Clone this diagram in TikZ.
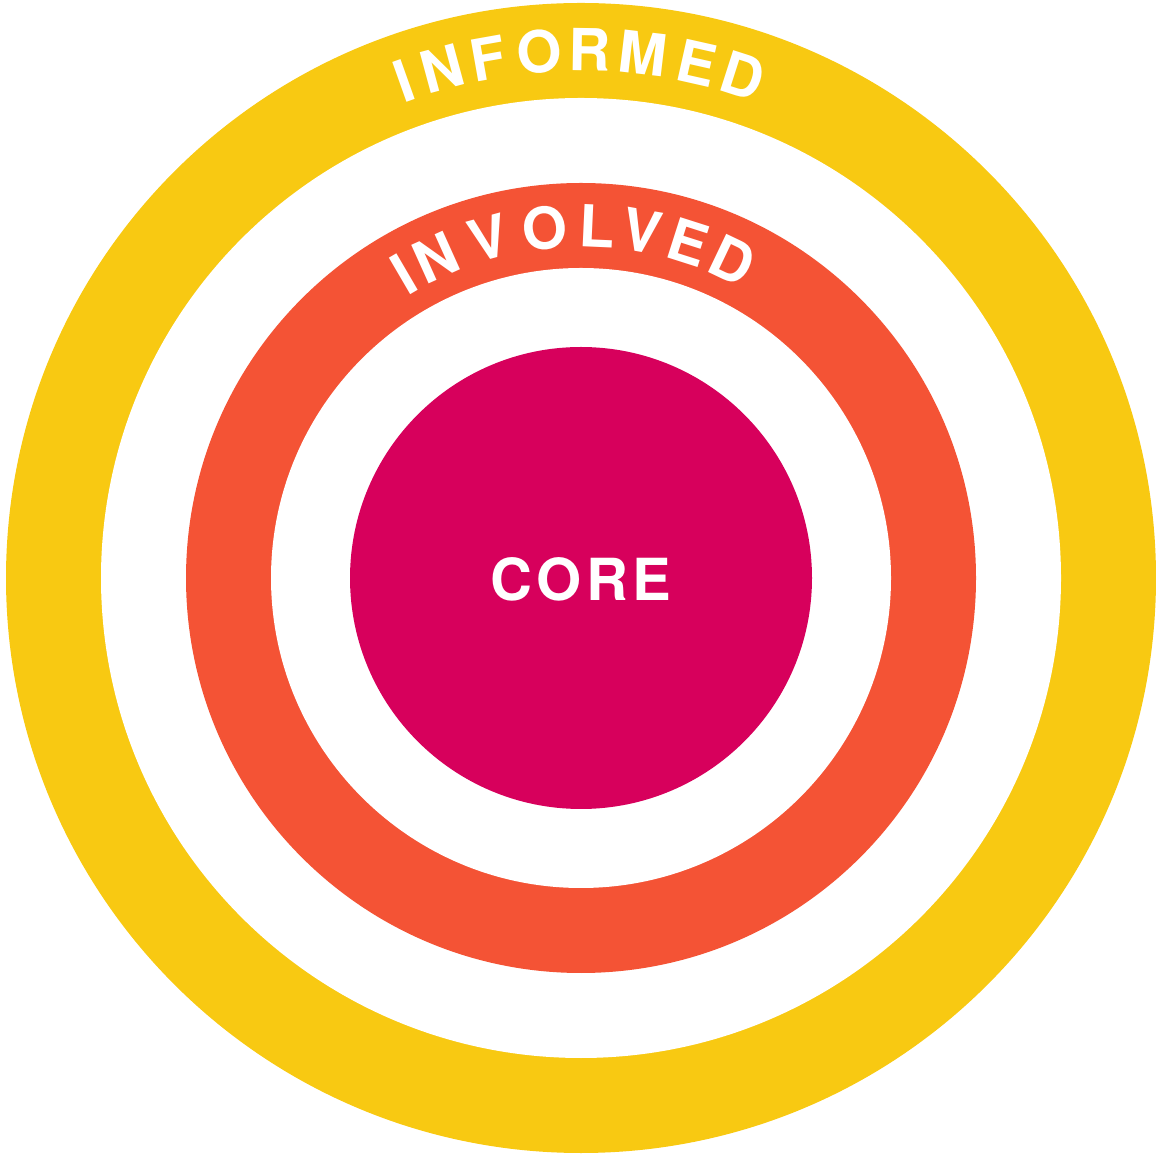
\documentclass[tikz,border=0pt]{standalone}
\usepackage{fontspec}
\setmainfont{TeX Gyre Heros}
\newfontfamily\ringfont{TeX Gyre Heros}
\definecolor{ringyellow}{HTML}{F8C912}
\definecolor{ringred}{HTML}{F45335}
\definecolor{coremag}{HTML}{D7005C}
\tikzset{
  ringletter/.style={text=white,font=\ringfont\bfseries\fontsize{58}{58}\selectfont,inner sep=0pt},
}
\begin{document}
\begin{tikzpicture}[x=1pt,y=1pt]
\useasboundingbox (0,0) rectangle (1156,1154);
\coordinate (c) at (581,576);
\fill[ringyellow] (c) circle[radius=575pt];
\fill[white] (c) circle[radius=480pt];
\fill[ringred] (c) circle[radius=395pt];
\fill[white] (c) circle[radius=310pt];
\fill[coremag] (c) circle[radius=231pt];
\foreach \ch/\ang [count=\i] in {I/109.6,N/105.2,F/100.1,O/94.5,R/89.1,M/83.3,E/77.3,D/72.2}
  \node[ringletter,rotate=\ang-90] (inf\i) at ([shift={(\ang:528pt)}]c) {\ch};
\foreach \ch/\ang [count=\i] in {I/120.3,N/114.3,V/105.2,O/95.9,L/87.4,V/80.0,E/72.3,D/64.5}
  \node[ringletter,rotate=\ang-90] (inv\i) at ([shift={(\ang:352pt)}]c) {\ch};
\node[ringletter] (core) at ([yshift=-1pt]c) {C\kern4.5pt O\kern4.5pt R\kern4.5pt E};
\end{tikzpicture}
\end{document}
